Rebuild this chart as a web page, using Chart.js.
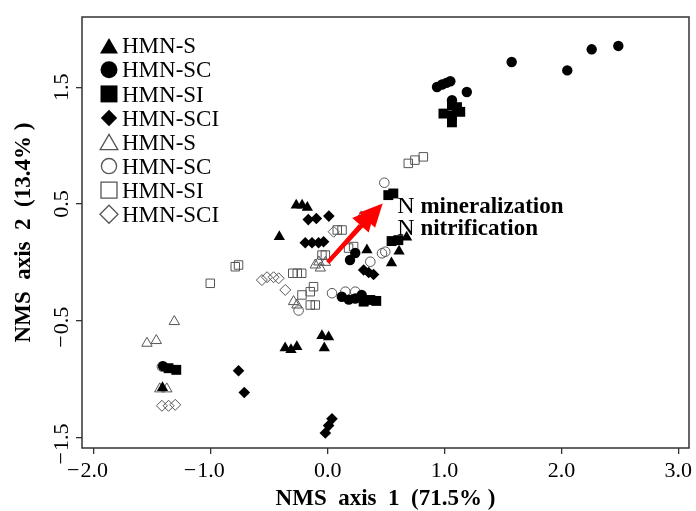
<!DOCTYPE html>
<html>
<head>
<meta charset="utf-8">
<script src="https://cdn.jsdelivr.net/npm/chart.js@4.4.1/dist/chart.umd.min.js"></script>
<style>
  html, body { margin: 0; padding: 0; background: #fff; }
  #wrap { width: 696px; height: 511px; }
</style>
</head>
<body>
<div id="wrap"><canvas id="nmsChart"></canvas></div>
<script>
// group names (filled = first four, open = last four)
const groupNames = ["HMN-S", "HMN-SC", "HMN-SI", "HMN-SCI", "HMN-S", "HMN-SC", "HMN-SI", "HMN-SCI"];

// NMS scores [axis 1, axis 2]
const sFilled = [
  [-0.27, 0.49], [-0.22, 0.49], [-0.175, 0.47], [-0.415, 0.22],
  [-0.365, -0.735], [-0.315, -0.75], [-0.265, -0.725],
  [-0.05, -0.63], [0.007, -0.64], [-0.03, -0.735],
  [0.335, 0.105], [0.61, 0.095], [0.545, -0.005], [0.675, 0.215],
  [-1.415, -1.075]
];
const scFilled = [
  [1.574, 1.717], [2.05, 1.645], [2.259, 1.826], [2.487, 1.855],
  [0.935, 1.503], [0.978, 1.524], [1.015, 1.538], [1.049, 1.552], [1.19, 1.46], [1.063, 1.39],
  [0.12, -0.295], [0.18, -0.32], [0.235, -0.31], [0.29, -0.28],
  [0.19, 0.02], [0.235, 0.08], [-1.41, -0.89]
];
const siFilled = [
  [1.063, 1.347], [0.99, 1.275], [1.063, 1.26], [1.134, 1.29], [1.063, 1.2], [1.106, 1.33],
  [0.518, 0.576], [0.561, 0.59], [0.546, 0.182], [0.604, 0.19],
  [0.307, -0.337], [0.364, -0.323], [0.415, -0.331],
  [-1.363, -0.908], [-1.297, -0.922]
];
const sciFilled = [
  [-0.167, 0.366], [-0.098, 0.375], [0.009, 0.396],
  [-0.193, 0.168], [-0.135, 0.168], [-0.079, 0.168], [-0.036, 0.176],
  [0.307, -0.066], [0.35, -0.087], [0.392, -0.104],
  [-0.764, -0.93], [-0.715, -1.116],
  [0.036, -1.342], [0.007, -1.4], [-0.021, -1.464]
];
const sOpen = [
  [-1.314, -0.508], [-1.548, -0.694], [-1.468, -0.671], [-1.438, -1.085], [-1.378, -1.085],
  [-0.107, -0.023], [-0.064, -0.049], [-0.077, 0.003], [-0.02, 0.0],
  [-0.293, -0.337], [-0.264, -0.366], [0.287, 0.39]
];
const scOpen = [
  [0.484, 0.682], [0.464, 0.077], [0.492, 0.091], [0.364, 0.005],
  [0.036, -0.265], [0.15, -0.252], [0.235, -0.252], [-0.25, -0.413],
  [-1.42, -0.894]
];
const siOpen = [
  [0.689, 0.848], [0.746, 0.876], [0.818, 0.904],
  [-1.006, -0.18], [-0.792, -0.038], [-0.764, -0.023],
  [-0.3, -0.094], [-0.261, -0.094], [-0.223, -0.094],
  [-0.221, -0.28], [-0.15, -0.252], [-0.122, -0.209], [-0.15, -0.366], [-0.107, -0.366],
  [0.081, 0.277], [0.122, 0.277], [0.178, 0.122], [0.221, 0.135],
  [-0.05, 0.062], [-0.021, 0.062]
];
const sciOpen = [
  [-1.42, -1.23], [-1.363, -1.23], [-1.306, -1.222],
  [-0.564, -0.152], [-0.52, -0.128], [-0.464, -0.128], [-0.421, -0.137], [-0.364, -0.237],
  [0.05, 0.262]
];

// environmental vectors (from the origin)
const vectorNames = ["N mineralization", "N nitrification"];
const vectorX = [0.47, 0.41];
const vectorY = [0.505, 0.465];

const xTicks = [-2, -1, 0, 1, 2, 3];
const yTicks = [1.5, 0.5, -0.5, -1.5];

const serif = "'Liberation Serif', 'Times New Roman', serif";
const grey = "#555";

function pts(arr) {
  return arr.map(p => ({ x: p[0], y: p[1] }));
}

function tickText(v) {
  return Math.abs(v).toFixed(1);
}

const groups = [
  { data: sFilled, style: "triangle", r: 6.5, fill: "#000", line: "#000", bw: 0, lr: 10.4 },
  { data: scFilled, style: "circle", r: 5.2, fill: "#000", line: "#000", bw: 0, lr: 8.5 },
  { data: siFilled, style: "rect", r: 7, fill: "#000", line: "#000", bw: 0, lr: 12 },
  { data: sciFilled, style: "rectRot", r: 5.8, fill: "#000", line: "#000", bw: 0, lr: 8.2 },
  { data: sOpen, style: "triangle", r: 6, fill: "rgba(0,0,0,0)", line: grey, bw: 1, lr: 10.2 },
  { data: scOpen, style: "circle", r: 4.8, fill: "rgba(0,0,0,0)", line: grey, bw: 1, lr: 7.6 },
  { data: siOpen, style: "rect", r: 6, fill: "rgba(0,0,0,0)", line: grey, bw: 1, lr: 11.3 },
  { data: sciOpen, style: "rectRot", r: 5.5, fill: "rgba(0,0,0,0)", line: grey, bw: 1, lr: 9 }
];

const datasets = groups.map((g, i) => ({
  label: groupNames[i],
  data: pts(g.data),
  pointStyle: g.style,
  pointRadius: g.r,
  backgroundColor: g.fill,
  borderColor: g.line,
  borderWidth: g.bw
}));

const extras = {
  id: "extras",
  afterDatasetsDraw(chart) {
    const ctx = chart.ctx;
    const xs = chart.scales.x, ys = chart.scales.y;
    const x0 = xs.getPixelForValue(0), y0 = ys.getPixelForValue(0);
    ctx.save();
    ctx.strokeStyle = "#ff0000";
    ctx.fillStyle = "#ff0000";
    ctx.lineWidth = 4;
    for (let i = 0; i < vectorX.length; i++) {
      const x1 = xs.getPixelForValue(vectorX[i]);
      const y1 = ys.getPixelForValue(vectorY[i]);
      const ang = Math.atan2(y1 - y0, x1 - x0);
      const headLen = 23, headW = 11;
      const bx = x1 - headLen * Math.cos(ang), by = y1 - headLen * Math.sin(ang);
      ctx.beginPath();
      ctx.moveTo(x0, y0);
      ctx.lineTo(bx, by);
      ctx.stroke();
      ctx.beginPath();
      ctx.moveTo(x1, y1);
      ctx.lineTo(bx + headW * Math.sin(ang), by - headW * Math.cos(ang));
      ctx.lineTo(bx - headW * Math.sin(ang), by + headW * Math.cos(ang));
      ctx.closePath();
      ctx.fill();
    }
    ctx.restore();
  },
  afterDraw(chart) {
    const ctx = chart.ctx;
    const area = chart.chartArea;
    const xs = chart.scales.x, ys = chart.scales.y;
    ctx.save();

    // frame
    ctx.strokeStyle = "#333";
    ctx.lineWidth = 1.5;
    ctx.strokeRect(area.left, area.top, area.right - area.left, area.bottom - area.top);

    // x tick labels (digits centred, minus hangs to the left)
    ctx.fillStyle = "#000";
    ctx.font = "22px " + serif;
    ctx.textBaseline = "alphabetic";
    xTicks.forEach(v => {
      const px = xs.getPixelForValue(v);
      const t = tickText(v);
      const w = ctx.measureText(t).width;
      ctx.textAlign = "left";
      ctx.fillText(t, px - w / 2, area.bottom + 29);
      if (v < 0) {
        ctx.textAlign = "right";
        ctx.fillText("\u2212", px - w / 2 - 1, area.bottom + 29);
      }
    });

    // y tick labels, rotated
    yTicks.forEach(v => {
      const py = ys.getPixelForValue(v);
      const t = tickText(v);
      ctx.save();
      ctx.translate(area.left - 14, py);
      ctx.rotate(-Math.PI / 2);
      const w = ctx.measureText(t).width;
      ctx.textAlign = "left";
      ctx.fillText(t, -w / 2, 0);
      if (v < 0) {
        ctx.textAlign = "right";
        ctx.fillText("\u2212", -w / 2 - 1, 0);
      }
      ctx.restore();
    });

    // legend in the top-left corner
    const lx = 109, ly = 45.8, step = 24.06;
    groups.forEach((g, i) => {
      const cy = ly + i * step;
      const yAdj = g.style === "triangle" ? g.lr * 0.25 : 0;
      ctx.fillStyle = g.fill;
      ctx.strokeStyle = g.line;
      ctx.lineWidth = g.bw ? 1.3 : 0;
      Chart.helpers.drawPoint(ctx, {
        pointStyle: g.style, radius: g.lr, rotation: 0, borderWidth: g.bw ? 1.3 : 0
      }, lx, cy + yAdj);
      ctx.fillStyle = "#000";
      ctx.font = "23px " + serif;
      ctx.textAlign = "left";
      ctx.fillText(groupNames[i], 122, cy + 7.6);
    });

    // vector labels
    const labelY = [0.42, 0.234];
    vectorNames.forEach((name, i) => {
      const px = xs.getPixelForValue(0.595);
      const py = ys.getPixelForValue(labelY[i]);
      const parts = name.split(" ");
      ctx.fillStyle = "#000";
      ctx.textAlign = "left";
      ctx.font = "24px " + serif;
      ctx.fillText(parts[0], px, py);
      const w = ctx.measureText(parts[0]).width;
      ctx.font = "bold 23px " + serif;
      ctx.fillText(" " + parts.slice(1).join(" "), px + w, py);
    });

    ctx.restore();
  }
};

const config = {
  type: "scatter",
  data: { datasets: datasets },
  options: {
    responsive: true,
    maintainAspectRatio: false,
    animation: false,
    events: [],
    layout: { padding: { top: 17, right: 7, left: 0, bottom: 0 } },
    plugins: {
      legend: { display: false },
      tooltip: { enabled: false }
    },
    scales: {
      x: {
        type: "linear",
        min: -2.104,
        max: 3.092,
        afterBuildTicks: s => { s.ticks = xTicks.map(v => ({ value: v })); },
        afterFit: s => { s.height = 63; },
        ticks: { display: false },
        border: { display: false },
        grid: { drawOnChartArea: false, drawTicks: true, tickLength: 6, color: "#333", lineWidth: 1.3 },
        title: {
          display: true,
          text: "NMS  axis  1  (71.5% )",
          color: "#000",
          font: { family: serif, size: 23, weight: "bold", lineHeight: 1 },
          padding: { top: 0, bottom: 0 }
        }
      },
      y: {
        type: "linear",
        min: -1.592,
        max: 2.103,
        afterBuildTicks: s => { s.ticks = yTicks.map(v => ({ value: v })); },
        afterFit: s => { s.width = 82; },
        ticks: { display: false },
        border: { display: false },
        grid: { drawOnChartArea: false, drawTicks: true, tickLength: 6, color: "#333", lineWidth: 1.3 },
        title: {
          display: true,
          text: "NMS  axis  2  (13.4% )",
          color: "#000",
          font: { family: serif, size: 23, weight: "bold", lineHeight: 1 },
          padding: { top: 13, bottom: 0 }
        }
      }
    }
  },
  plugins: [extras]
};

const nmsChart = new Chart(document.getElementById("nmsChart"), config);
</script>
</body>
</html>
